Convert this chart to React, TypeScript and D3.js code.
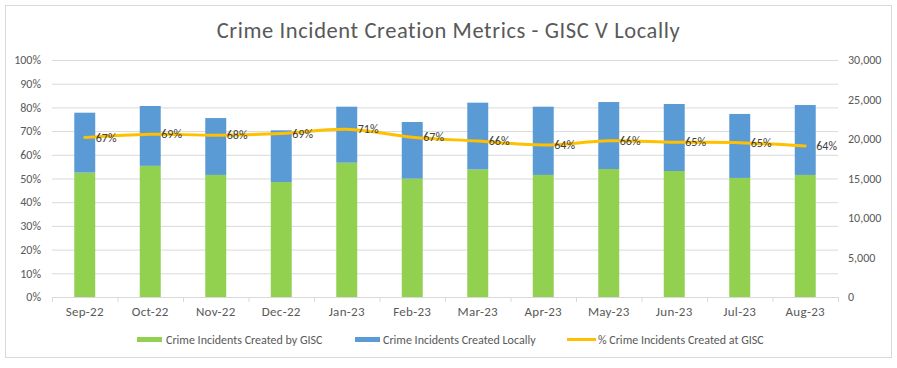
import React from "react";
import * as d3 from "d3";

const months = ["Sep-22", "Oct-22", "Nov-22", "Dec-22", "Jan-23", "Feb-23", "Mar-23", "Apr-23", "May-23", "Jun-23", "Jul-23", "Aug-23"];
const byGisc = [15750, 16600, 15450, 14550, 17000, 14980, 16150, 15450, 16200, 15950, 15070, 15450];
const locally = [7580, 7580, 7200, 6550, 7090, 7170, 8450, 8640, 8480, 8480, 8100, 8850];
const pctGisc = [67.3, 68.7, 68.3, 69.0, 70.8, 67.4, 65.8, 64.1, 65.9, 65.3, 65.1, 63.7];
const pctTicks = [0, 10, 20, 30, 40, 50, 60, 70, 80, 90, 100];
const countTicks = [0, 5000, 10000, 15000, 20000, 25000, 30000];

const W = 897;
const H = 368;
const margin = { top: 60, right: 59, bottom: 71, left: 52 };
const font = "Calibri, Carlito, 'Liberation Sans Narrow', 'Liberation Sans', sans-serif";
const textCol = "#595959";

const App = () => {
  const x = d3.scaleBand<string>()
    .domain(months)
    .range([margin.left, W - margin.right])
    .paddingInner(0.68)
    .paddingOuter(0.34);
  const yPct = d3.scaleLinear().domain([0, 100]).range([H - margin.bottom, margin.top]);
  const yCount = d3.scaleLinear().domain([0, 30000]).range([H - margin.bottom, margin.top]);
  const cx = (m: string) => (x(m) as number) + x.bandwidth() / 2;
  const step = x.step();
  const line = d3.line<number>()
    .x((_, i) => cx(months[i]))
    .y((d) => yPct(d))
    .curve(d3.curveCatmullRom);
  const fmt = d3.format(",");
  const base = H - margin.bottom;

  return (
    <svg width={W} height={H} style={{ position: "absolute", left: 0, top: 0, fontFamily: font }}>
      <rect x={0} y={0} width={W} height={H} fill="#fff" />
      <rect x={5.5} y={5.5} width={886} height={352} fill="none" stroke="#d9d9d9" />
      <text x={448.5} y={38} textAnchor="middle" fontSize={22.5} letterSpacing={0.6} fill={textCol}>
        Crime Incident Creation Metrics - GISC V Locally
      </text>

      {pctTicks.map((t) => (
        <g key={"p" + t}>
          {t > 0 && (
            <line x1={margin.left} x2={W - margin.right} y1={yPct(t) + 0.5} y2={yPct(t) + 0.5} stroke="#d9d9d9" />
          )}
          <text x={41} y={yPct(t)} dy="0.35em" textAnchor="end" fontSize={12} fill={textCol}>
            {t + "%"}
          </text>
        </g>
      ))}
      {countTicks.map((t) => (
        <text key={"c" + t} x={848} y={yCount(t)} dy="0.35em" fontSize={12} fill={textCol}>
          {fmt(t)}
        </text>
      ))}

      {months.map((m, i) => (
        <g key={m}>
          <rect x={x(m)} width={x.bandwidth()} y={yCount(byGisc[i])} height={base - yCount(byGisc[i])} fill="#92d050" />
          <rect x={x(m)} width={x.bandwidth()} y={yCount(byGisc[i] + locally[i])} height={yCount(byGisc[i]) - yCount(byGisc[i] + locally[i])} fill="#5b9bd5" />
        </g>
      ))}

      <line x1={margin.left} x2={W - margin.right} y1={base + 0.5} y2={base + 0.5} stroke="#d9d9d9" />
      {d3.range(months.length + 1).map((i) => (
        <line key={"t" + i} x1={margin.left + i * step + 0.5} x2={margin.left + i * step + 0.5} y1={base} y2={base + 5} stroke="#d9d9d9" />
      ))}
      {months.map((m) => (
        <text key={"l" + m} x={cx(m)} y={base + 14} dy="0.35em" textAnchor="middle" fontSize={13} letterSpacing={0.3} fill={textCol}>
          {m}
        </text>
      ))}

      <path d={line(pctGisc) || ""} fill="none" stroke="#ffc000" strokeWidth={3} strokeLinecap="round" />
      {months.map((m, i) => (
        <text key={"v" + m} x={cx(m) + 11} y={yPct(pctGisc[i])} dy="0.35em" fontSize={12} fill="#404040">
          {Math.round(pctGisc[i]) + "%"}
        </text>
      ))}

      <g fontSize={12} fill={textCol}>
        <rect x={137} y={337} width={25} height={5} fill="#92d050" />
        <text x={166} y={339.5} dy="0.35em">Crime Incidents Created by GISC</text>
        <rect x={355} y={337} width={25} height={5} fill="#5b9bd5" />
        <text x={383} y={339.5} dy="0.35em">Crime Incidents Created Locally</text>
        <line x1={567} x2={596} y1={339.5} y2={339.5} stroke="#ffc000" strokeWidth={3} />
        <text x={598} y={339.5} dy="0.35em">% Crime Incidents Created at GISC</text>
      </g>
    </svg>
  );
};

export default App;
